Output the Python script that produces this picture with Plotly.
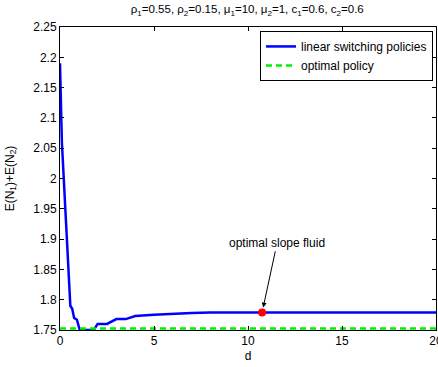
import plotly.graph_objects as go

d_vals = [0, 0.1, 0.3, 0.45, 0.55, 0.65, 0.75, 0.9, 1.05, 1.8, 2.0, 2.5, 3.0, 3.5, 4.0, 5.0, 6.0, 7.0, 8.0, 20.0]
cost_linear = [2.19, 2.06, 1.94, 1.86, 1.79, 1.785, 1.77, 1.767, 1.75, 1.75, 1.76, 1.76, 1.768, 1.768, 1.773, 1.775, 1.777, 1.778, 1.779, 1.779]
d_range = [0, 20]
cost_optimal = [1.7525, 1.7525]
fluid_d = [10.75]
fluid_cost = [1.779]
label_pos = [11.55, 1.894]

fig = go.Figure()
fig.add_trace(go.Scatter(x=d_vals, y=cost_linear, mode="lines",
                         line=dict(color="#0000ff", width=2.5),
                         name="linear switching policies"))
fig.add_trace(go.Scatter(x=d_range, y=cost_optimal, mode="lines",
                         line=dict(color="#00ee00", width=2.5, dash="6px,4px"),
                         name="optimal policy"))
fig.add_trace(go.Scatter(x=fluid_d, y=fluid_cost, mode="markers",
                         marker=dict(color="#ff0000", size=8),
                         showlegend=False))

fig.add_annotation(x=fluid_d[0], y=fluid_cost[0], ax=label_pos[0], ay=label_pos[1],
                   axref="x", ayref="y",
                   text="optimal slope fluid", showarrow=True,
                   arrowhead=2, arrowsize=1, arrowwidth=1, arrowcolor="black",
                   standoff=5, font=dict(size=12, color="black"))

axis_common = dict(showline=True, linecolor="black", linewidth=1, mirror="ticks",
                   ticks="inside", ticklen=4, tickcolor="black", showgrid=False,
                   zeroline=False, tickfont=dict(size=12, color="black"),
                   ticklabeloverflow="allow")

fig.update_xaxes(range=[0, 20], tickvals=[0, 5, 10, 15, 20],
                 title=dict(text="d", font=dict(size=12, color="black"), standoff=4),
                 **axis_common)
fig.update_yaxes(range=[1.75, 2.25], dtick=0.05, tickformat="~g",
                 title=dict(text="E(N<sub>1</sub>)+E(N<sub>2</sub>)", font=dict(size=12, color="black"), standoff=16),
                 **axis_common)

fig.update_layout(
    width=438, height=367,
    margin=dict(l=60, r=2, t=27, b=37, autoexpand=False),
    paper_bgcolor="white", plot_bgcolor="white",
    font=dict(family="Liberation Sans, Arial, sans-serif", size=12, color="black"),
    title=dict(text="ρ<sub>1</sub>=0.55, ρ<sub>2</sub>=0.15, μ<sub>1</sub>=10, μ<sub>2</sub>=1, c<sub>1</sub>=0.6, c<sub>2</sub>=0.6",
               x=0.5645, xanchor="center", y=0.975, yanchor="middle",
               font=dict(size=11.5, color="black")),
    legend=dict(x=0.992, y=0.987, xanchor="right", yanchor="top",
                bgcolor="white", bordercolor="black", borderwidth=1,
                font=dict(size=12, color="black"), tracegroupgap=0,
                itemwidth=30),
    showlegend=True,
)

fig.write_html("out.html", config={"displayModeBar": False},
               post_script="document.body.style.margin='0';document.body.style.overflow='hidden';")
